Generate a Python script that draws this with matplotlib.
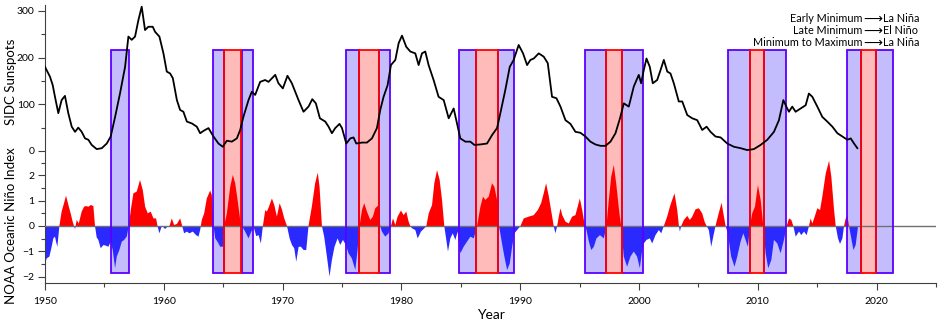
import matplotlib.pyplot as plt
import numpy as np
from matplotlib.patches import Rectangle

plt.rcParams['font.family'] = ['Lato', 'DejaVu Sans']

# smoothed SIDC sunspot number
sun_year = [1950.0, 1950.42, 1950.65, 1950.84, 1951.12, 1951.4, 1951.68, 1951.96, 1952.25, 1952.53,
            1952.8, 1953.09, 1953.37, 1953.65, 1953.93, 1954.35, 1954.78, 1955.2, 1955.53, 1955.9,
            1956.32, 1956.74, 1957.02, 1957.3, 1957.58, 1957.86, 1958.14, 1958.42, 1958.7, 1959.07,
            1959.27, 1959.63, 1959.97, 1960.25, 1960.53, 1960.76, 1961.1, 1961.37, 1961.65, 1961.94,
            1962.36, 1962.78, 1963.06, 1963.34, 1963.76, 1964.18, 1964.6, 1964.97, 1965.3, 1965.73,
            1966.15, 1966.43, 1966.7, 1967.13, 1967.41, 1967.69, 1968.11, 1968.53, 1968.81, 1969.38,
            1969.65, 1970.02, 1970.41, 1970.78, 1971.34, 1971.76, 1972.18, 1972.5, 1972.8, 1973.14,
            1973.59, 1973.87, 1974.15, 1974.43, 1974.79, 1975.0, 1975.36, 1975.7, 1975.97, 1976.2,
            1976.68, 1977.1, 1977.52, 1977.94, 1978.22, 1978.5, 1978.84, 1979.12, 1979.49, 1979.77,
            1980.05, 1980.41, 1980.75, 1981.17, 1981.45, 1981.73, 1982.01, 1982.29, 1982.71, 1983.13,
            1983.56, 1983.98, 1984.4, 1984.68, 1984.96, 1985.38, 1985.8, 1986.14, 1986.65, 1987.21,
            1987.63, 1988.05, 1988.33, 1988.75, 1989.12, 1989.45, 1989.87, 1990.24, 1990.58, 1990.86,
            1991.14, 1991.56, 1991.98, 1992.32, 1992.68, 1993.05, 1993.39, 1993.81, 1994.23, 1994.65,
            1995.07, 1995.49, 1995.91, 1996.33, 1996.76, 1997.18, 1997.6, 1998.02, 1998.4, 1998.72,
            1999.14, 1999.56, 1999.98, 2000.18, 2000.4, 2000.63, 2000.91, 2001.16, 2001.53, 2001.81,
            2002.09, 2002.38, 2002.65, 2002.93, 2003.35, 2003.64, 2004.06, 2004.48, 2004.9, 2005.32,
            2005.69, 2006.02, 2006.44, 2006.87, 2007.43, 2007.99, 2008.55, 2009.11, 2009.67, 2010.24,
            2010.8, 2011.36, 2011.78, 2012.15, 2012.4, 2012.62, 2012.9, 2013.18, 2013.6, 2014.03,
            2014.3, 2014.59, 2015.01, 2015.43, 2015.85, 2016.28, 2016.7, 2017.12, 2017.54, 2017.82,
            2018.1, 2018.38]
sunspots = [180, 159, 141, 116, 81, 109, 118, 81, 52, 41,
            50, 41, 27, 24, 13, 4, 6, 16, 31, 73,
            124, 180, 245, 238, 245, 280, 309, 259, 266, 266,
            255, 245, 209, 170, 166, 156, 109, 88, 84, 63,
            59, 52, 38, 43, 49, 31, 16, 9, 22, 20,
            27, 45, 73, 109, 127, 120, 148, 152, 148, 163,
            145, 134, 161, 145, 109, 84, 95, 111, 102, 70,
            63, 52, 38, 49, 58, 49, 16, 27, 29, 16,
            18, 18, 27, 49, 88, 116, 141, 184, 195, 231,
            247, 223, 213, 209, 184, 209, 213, 184, 152, 116,
            109, 70, 91, 59, 27, 20, 20, 13, 14, 16,
            34, 49, 81, 131, 180, 195, 227, 209, 184, 195,
            198, 209, 202, 188, 116, 113, 95, 66, 58, 41,
            39, 31, 20, 14, 11, 11, 20, 38, 70, 102,
            95, 138, 163, 145, 173, 198, 180, 145, 152, 173,
            195, 170, 166, 145, 106, 106, 77, 70, 66, 45,
            52, 41, 31, 29, 16, 9, 6, 2, 4, 13,
            24, 41, 66, 109, 95, 84, 95, 84, 91, 98,
            123, 116, 95, 73, 63, 52, 38, 31, 24, 27,
            16, 6]

# NOAA Oceanic Nino Index
oni_year = [1950.0, 1950.14, 1950.37, 1950.56, 1950.7, 1950.84, 1950.93, 1951.04, 1951.21, 1951.4,
            1951.6, 1951.77, 1951.97, 1952.16, 1952.33, 1952.53, 1952.67, 1952.84, 1953.09, 1953.29,
            1953.46, 1953.65, 1953.85, 1954.07, 1954.21, 1954.35, 1954.49, 1954.69, 1954.92, 1955.14,
            1955.34, 1955.53, 1955.7, 1955.9, 1956.04, 1956.26, 1956.46, 1956.66, 1956.88, 1957.05,
            1957.22, 1957.44, 1957.72, 1958.0, 1958.23, 1958.43, 1958.65, 1958.9, 1959.13, 1959.35,
            1959.47, 1959.63, 1959.83, 1959.97, 1960.11, 1960.25, 1960.48, 1960.67, 1960.87, 1961.1,
            1961.38, 1961.55, 1961.71, 1961.94, 1962.16, 1962.44, 1962.72, 1962.92, 1963.06, 1963.2,
            1963.4, 1963.62, 1963.9, 1964.04, 1964.19, 1964.33, 1964.52, 1964.75, 1964.97, 1965.08,
            1965.31, 1965.59, 1965.81, 1966.01, 1966.21, 1966.43, 1966.57, 1966.85, 1967.13, 1967.33,
            1967.56, 1967.78, 1967.98, 1968.17, 1968.34, 1968.54, 1968.68, 1968.85, 1969.1, 1969.3,
            1969.52, 1969.75, 1969.94, 1970.14, 1970.37, 1970.59, 1970.79, 1970.98, 1971.15, 1971.35,
            1971.54, 1971.77, 1971.99, 1972.18, 1972.46, 1972.74, 1972.96, 1973.11, 1973.31, 1973.5,
            1973.73, 1973.95, 1974.15, 1974.37, 1974.63, 1974.85, 1975.08, 1975.33, 1975.55, 1975.83,
            1976.12, 1976.31, 1976.48, 1976.68, 1976.87, 1977.1, 1977.38, 1977.6, 1977.8, 1978.08,
            1978.22, 1978.36, 1978.64, 1978.92, 1979.12, 1979.29, 1979.49, 1979.68, 1979.96, 1980.19,
            1980.41, 1980.61, 1980.75, 1980.89, 1981.17, 1981.37, 1981.65, 1981.93, 1982.1, 1982.3,
            1982.58, 1982.77, 1983.0, 1983.22, 1983.42, 1983.61, 1983.78, 1983.92, 1984.12, 1984.32,
            1984.54, 1984.74, 1984.96, 1985.24, 1985.52, 1985.81, 1986.09, 1986.37, 1986.65, 1986.87,
            1987.07, 1987.35, 1987.63, 1987.83, 1988.05, 1988.22, 1988.47, 1988.67, 1988.9, 1989.12,
            1989.32, 1989.51, 1989.74, 1990.02, 1990.3, 1990.72, 1991.14, 1991.48, 1991.76, 1991.98,
            1992.18, 1992.41, 1992.69, 1992.83, 1992.97, 1993.11, 1993.25, 1993.39, 1993.54, 1993.81,
            1994.09, 1994.37, 1994.65, 1995.02, 1995.22, 1995.41, 1995.58, 1995.78, 1995.98, 1996.2,
            1996.42, 1996.71, 1997.04, 1997.26, 1997.46, 1997.66, 1997.88, 1998.1, 1998.35, 1998.5,
            1998.72, 1999.0, 1999.28, 1999.56, 1999.84, 2000.07, 2000.27, 2000.41, 2000.63, 2000.91,
            2001.11, 2001.39, 2001.67, 2001.87, 2002.09, 2002.37, 2002.6, 2002.79, 2002.99, 2003.22,
            2003.36, 2003.44, 2003.55, 2003.78, 2004.06, 2004.28, 2004.48, 2004.76, 2005.04, 2005.32,
            2005.52, 2005.69, 2005.88, 2006.08, 2006.25, 2006.44, 2006.67, 2006.95, 2007.15, 2007.29,
            2007.48, 2007.76, 2008.04, 2008.27, 2008.55, 2008.78, 2008.97, 2009.17, 2009.34, 2009.53,
            2009.76, 2010.01, 2010.24, 2010.46, 2010.66, 2010.88, 2011.14, 2011.36, 2011.64, 2011.92,
            2012.2, 2012.43, 2012.63, 2012.82, 2012.99, 2013.19, 2013.47, 2013.66, 2013.89, 2014.11,
            2014.31, 2014.45, 2014.59, 2014.79, 2015.01, 2015.24, 2015.43, 2015.72, 2016.0, 2016.19,
            2016.42, 2016.56, 2016.75, 2016.92, 2017.12, 2017.26, 2017.4, 2017.54, 2017.68, 2017.82,
            2018.05, 2018.24, 2018.44]
oni = [-1.48, -1.28, -1.21, -0.82, -0.49, -0.42, -0.62, -0.82, 0.0, 0.57,
       0.9, 1.2, 0.83, 0.5, 0.17, -0.12, 0.24, 0.1, 0.57, 0.76,
       0.79, 0.76, 0.83, 0.79, 0.0, -0.45, -0.55, -0.88, -0.75, -0.78,
       -0.82, -0.62, -0.95, -1.67, -1.21, -0.95, -0.62, -0.55, -0.42, 0.0,
       0.63, 1.29, 1.36, 1.82, 1.42, 0.76, 0.5, 0.57, 0.3, 0.3,
       0.0, -0.29, 0.0, -0.05, -0.12, -0.05, 0.0, 0.3, 0.04, 0.08,
       0.3, 0.0, -0.29, -0.22, -0.29, -0.22, -0.36, -0.42, -0.16, 0.24,
       0.5, 1.09, 1.4, 1.23, 0.0, -0.49, -0.62, -0.82, -0.82, 0.0,
       0.5, 1.55, 2.02, 1.69, 1.03, 0.24, 0.0, -0.22, -0.49, -0.26,
       -0.03, -0.4, -0.36, -0.69, 0.0, 0.63, 0.57, 0.76, 1.09, 0.83,
       0.37, 0.9, 0.66, 0.3, 0.0, -0.49, -0.75, -0.88, -1.41, -0.82,
       -0.82, -0.95, -0.95, 0.0, 0.76, 1.69, 2.11, 1.55, 0.0, -0.42,
       -1.21, -2.0, -1.34, -0.82, -0.49, -0.75, -0.55, -0.75, -1.08, -1.28,
       -1.74, -0.95, 0.0, 0.63, 0.9, 0.57, 0.24, 0.37, 0.7, 0.83,
       0.0, -0.22, -0.42, -0.29, 0.0, 0.3, 0.04, 0.37, 0.61, 0.43,
       0.57, 0.17, 0.0, -0.09, -0.16, -0.49, -0.22, -0.09, 0.0, 0.5,
       0.83, 1.69, 2.21, 1.82, 1.03, 0.0, -0.55, -1.01, -0.49, -0.29,
       -0.55, -0.22, -1.08, -0.82, -0.62, -0.42, -0.49, 0.0, 0.76, 1.16,
       1.03, 1.16, 1.69, 1.55, 1.03, 0.0, -0.69, -1.21, -1.74, -1.48,
       -0.82, -0.29, -0.16, 0.0, 0.3, 0.37, 0.43, 0.63, 0.9, 1.29,
       1.69, 1.16, 0.37, -0.03, -0.29, 0.0, 0.37, 0.7, 0.43, 0.17,
       0.1, 0.37, 0.43, 1.09, 0.63, 0.1, -0.16, -0.62, -0.95, -0.82,
       -0.49, -0.36, -0.49, 0.0, 1.03, 1.95, 2.41, 1.6, 0.5, 0.0,
       -1.21, -1.61, -1.21, -1.01, -1.21, -1.67, -0.95, -0.69, -0.55, -0.49,
       -0.69, -0.36, -0.16, -0.29, 0.0, 0.37, 0.76, 1.03, 1.29, 0.63,
       0.0, -0.22, 0.0, 0.24, 0.4, 0.24, 0.37, 0.66, 0.7, 0.5,
       0.17, 0.0, -0.16, -0.82, -0.42, 0.0, 0.43, 0.92, 0.37, 0.0,
       -0.29, -1.21, -1.61, -1.21, -0.62, -0.29, -0.55, -0.82, 0.0, 0.5,
       0.76, 1.62, 1.03, 0.0, -1.08, -1.67, -1.34, -0.55, -0.69, -1.08,
       -0.55, 0.0, 0.3, 0.24, 0.0, -0.42, -0.22, -0.36, -0.22, -0.36,
       0.0, 0.3, 0.1, 0.37, 0.7, 0.63, 1.16, 2.08, 2.58, 1.95,
       0.63, 0.0, -0.49, -0.71, -0.49, 0.0, 0.3, 0.4, 0.0, -0.36,
       -0.95, -0.75, 0.0]

# solar-cycle phase windows (start, end year)
early_min = [(1964.13, 1965.1), (1975.33, 1976.43), (1984.82, 1986.31), (1995.49, 1997.26),
             (2007.51, 2009.31), (2017.48, 2018.66)]
late_min = [(1965.1, 1966.5), (1976.43, 1978.1), (1986.31, 1988.16), (1997.26, 1998.58),
            (2009.31, 2010.51), (2018.66, 2019.98)]
min_to_max = [(1955.53, 1957.1), (1966.6, 1967.55), (1978.1, 1979.06), (1988.16, 1989.45),
              (1998.58, 2000.35), (2010.51, 2012.4), (2019.98, 2021.38)]

W, H = 938, 321
fig = plt.figure(figsize=(W / 100, H / 100), dpi=100)
rect = [45 / W, (H - 283) / H, (936 - 45) / W, (283 - 5) / H]
ax = fig.add_axes(rect)
ax2 = fig.add_axes(rect, sharex=ax)
ax2.patch.set_visible(False)

axis_col = '#404040'
blue_fill, blue_edge = '#c4bdfd', '#5a00ff'
red_fill, red_edge = '#ffbaba', '#ff0000'

box_lo, box_hi = -1.87, 6.96
for spans, fc, ec in [(early_min, blue_fill, blue_edge), (min_to_max, blue_fill, blue_edge),
                      (late_min, red_fill, red_edge)]:
    for a, b in spans:
        ax.add_patch(Rectangle((a, box_lo), b - a, box_hi - box_lo, facecolor=fc,
                               edgecolor='none', zorder=1))
        ax.add_patch(Rectangle((a, box_lo), b - a, box_hi - box_lo, facecolor='none',
                               edgecolor=ec, linewidth=1.3, zorder=4))

oy = np.array(oni_year)
ov = np.array(oni)
ax.fill_between(oy, 0, ov, where=ov >= 0, interpolate=True, color='#ff0000', lw=0, zorder=2)
ax.fill_between(oy, 0, ov, where=ov <= 0, interpolate=True, color='#2a2aff', lw=0, zorder=2)
ax.axhline(0, color='#707070', lw=1.0, zorder=3)

ax2.plot(sun_year, sunspots, color='black', lw=1.3, zorder=5)

ax.set_xlim(1950, 2025)
ax.set_ylim(-2.253, 8.735)
ax2.set_ylim(-282.7, 312.6)

for a in (ax, ax2):
    for s in ['top', 'right']:
        a.spines[s].set_visible(False)
ax2.spines['left'].set_visible(False)
ax2.spines['bottom'].set_visible(False)
ax.spines['left'].set_color(axis_col)
ax.spines['bottom'].set_color(axis_col)

ax.set_xticks(np.arange(1950, 2021, 10))
ax.set_xticks(np.arange(1955, 2026, 10), minor=True)
ax.set_yticks([-2, -1, 0, 1, 2])
ax.set_yticks([-1.5, -0.5, 0.5, 1.5, 2.5], minor=True)
ax2.set_yticks([0, 100, 200, 300])
ax2.set_yticks([50, 150, 250], minor=True)
ax2.tick_params(axis='x', which='both', bottom=False, labelbottom=False)

for a in (ax, ax2):
    a.tick_params(which='major', length=5, width=0.8, color=axis_col, labelsize=7.5, pad=2.5)
    a.tick_params(which='minor', length=3, width=0.8, color=axis_col)
ax.tick_params(axis='x', pad=5)

ax.set_xlabel('Year', fontsize=10, labelpad=2)
fig.text(11 / W, 1 - 82 / H, 'SIDC Sunspots', rotation=90, ha='center', va='center', fontsize=9.5)
fig.text(11 / W, 1 - 226 / H, 'NOAA Oceanic Niño Index', rotation=90, ha='center', va='center',
         fontsize=9.5)

legend_left = ['Early Minimum', 'Late Minimum', 'Minimum to Maximum']
legend_right = ['La Niña', 'El Niño', 'La Niña']
for i, (l, r) in enumerate(zip(legend_left, legend_right)):
    yy = 1 - (19 + i * 11.9) / H
    fig.text(862 / W, yy, l, ha='right', va='center', fontsize=7.8)
    fig.text(872.5 / W, yy, '⟶', ha='center', va='center', fontsize=9.5, family='DejaVu Sans')
    fig.text(883 / W, yy, r, ha='left', va='center', fontsize=7.8)

fig.savefig('out.png', dpi=100)
